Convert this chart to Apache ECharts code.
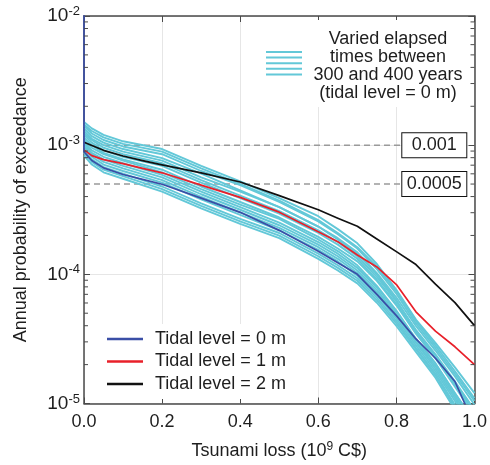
<!DOCTYPE html>
<html><head><meta charset="utf-8">
<script src="https://cdn.jsdelivr.net/npm/echarts@6/dist/echarts.min.js"></script>
<style>html,body{margin:0;padding:0;background:#fff}#c{width:490px;height:465px}</style>
</head><body><div id="c"></div>
<script>
// ---- data ----
const xTickLabels = ['0.0','0.2','0.4','0.6','0.8','1.0'];
const yMin = 1e-5, yMax = 1e-2;

const blackName = 'Tidal level = 2 m';
const blackX = [0, 0.05, 0.1, 0.15, 0.2, 0.3, 0.4, 0.5, 0.6, 0.65, 0.7, 0.75, 0.8, 0.85, 0.9, 0.95, 1.0];
const blackY = [1.054e-3, 9.12e-4, 8.24e-4, 7.59e-4, 7.03e-4, 6.11e-4, 5.19e-4, 4.07e-4, 3.16e-4, 2.72e-4, 2.36e-4, 1.88e-4, 1.50e-4, 1.19e-4, 8.39e-5, 6.04e-5, 4.01e-5];

const redName = 'Tidal level = 1 m';
const redX = [0, 0.02, 0.05, 0.1, 0.15, 0.2, 0.3, 0.4, 0.5, 0.6, 0.65, 0.7, 0.75, 0.8, 0.85, 0.9, 0.95, 1.0];
const redY = [9.2e-4, 8.3e-4, 7.73e-4, 7.19e-4, 6.61e-4, 6.11e-4, 4.90e-4, 3.94e-4, 3.03e-4, 2.14e-4, 1.79e-4, 1.41e-4, 1.14e-4, 8.34e-5, 5.13e-5, 3.63e-5, 2.75e-5, 2.0e-5];

const blueName = 'Tidal level = 0 m';
// first point: the curve rises vertically at zero loss above the top of the axis
const blueX = [0, 0, 0.02, 0.05, 0.1, 0.15, 0.2, 0.3, 0.4, 0.5, 0.6, 0.7, 0.75, 0.8, 0.85, 0.9, 0.95, 0.975, 1.0];
const blueY = [2e-2, 8.9e-4, 7.6e-4, 6.67e-4, 5.93e-4, 5.43e-4, 4.98e-4, 3.89e-4, 3.02e-4, 2.19e-4, 1.51e-4, 1.0e-4, 7.0e-5, 4.79e-5, 3.16e-5, 2.24e-5, 1.48e-5, 1.0e-5, 6.3e-6];

// elapsed-time scenarios: x positions and exponents (log10 of probability)
const cyanX = [0, 0.02, 0.05, 0.1, 0.2, 0.3, 0.4, 0.5, 0.6, 0.65, 0.7, 0.75, 0.8, 0.85, 0.9, 0.95, 1.0];
const cyan00 = [-2.82,-2.87,-2.92,-2.97,-3.03,-3.16,-3.28,-3.41,-3.55,-3.65,-3.76,-3.92,-4.12,-4.35,-4.53,-4.72,-4.92];
const cyan01 = [-2.84,-2.89,-2.94,-2.99,-3.05,-3.18,-3.30,-3.43,-3.58,-3.68,-3.79,-3.94,-4.13,-4.36,-4.55,-4.75,-4.96];
const cyan02 = [-2.85,-2.91,-2.96,-3.01,-3.07,-3.20,-3.31,-3.44,-3.59,-3.69,-3.80,-3.96,-4.15,-4.38,-4.57,-4.77,-4.98];
const cyan03 = [-2.87,-2.93,-2.98,-3.03,-3.10,-3.22,-3.35,-3.48,-3.63,-3.73,-3.84,-4.00,-4.20,-4.44,-4.63,-4.84,-5.06];
const cyan04 = [-2.89,-2.95,-3.00,-3.05,-3.12,-3.25,-3.36,-3.48,-3.63,-3.72,-3.83,-3.99,-4.18,-4.40,-4.59,-4.79,-5.01];
const cyan05 = [-2.91,-2.96,-3.02,-3.07,-3.14,-3.27,-3.39,-3.51,-3.66,-3.75,-3.86,-4.02,-4.21,-4.43,-4.62,-4.83,-5.05];
const cyan06 = [-2.92,-2.98,-3.04,-3.09,-3.16,-3.29,-3.41,-3.53,-3.68,-3.77,-3.88,-4.04,-4.23,-4.45,-4.64,-4.85,-5.07];
const cyan07 = [-2.94,-3.00,-3.06,-3.11,-3.19,-3.32,-3.44,-3.56,-3.71,-3.80,-3.90,-4.05,-4.24,-4.46,-4.65,-4.87,-5.09];
const cyan08 = [-2.96,-3.02,-3.07,-3.12,-3.21,-3.34,-3.46,-3.57,-3.73,-3.82,-3.93,-4.09,-4.28,-4.50,-4.69,-4.92,-5.14];
const cyan09 = [-2.98,-3.04,-3.09,-3.14,-3.23,-3.36,-3.48,-3.60,-3.75,-3.84,-3.95,-4.10,-4.29,-4.50,-4.69,-4.92,-5.15];
const cyan10 = [-2.99,-3.06,-3.11,-3.16,-3.25,-3.38,-3.50,-3.62,-3.77,-3.86,-3.97,-4.12,-4.31,-4.52,-4.71,-4.94,-5.18];
const cyan11 = [-3.01,-3.07,-3.13,-3.18,-3.27,-3.40,-3.52,-3.64,-3.79,-3.88,-3.99,-4.14,-4.32,-4.53,-4.73,-4.96,-5.20];
const cyan12 = [-3.03,-3.09,-3.15,-3.20,-3.29,-3.42,-3.54,-3.66,-3.81,-3.90,-4.01,-4.16,-4.34,-4.55,-4.75,-4.98,-5.22];
const cyan13 = [-3.05,-3.11,-3.17,-3.22,-3.32,-3.45,-3.57,-3.68,-3.84,-3.93,-4.03,-4.18,-4.36,-4.57,-4.77,-5.01,-5.25];
const cyan14 = [-3.06,-3.13,-3.19,-3.24,-3.34,-3.47,-3.59,-3.70,-3.86,-3.95,-4.05,-4.20,-4.38,-4.58,-4.78,-5.03,-5.27];
const cyan15 = [-3.08,-3.15,-3.21,-3.26,-3.36,-3.49,-3.61,-3.72,-3.88,-3.97,-4.07,-4.22,-4.40,-4.60,-4.80,-5.05,-5.30];
const cyanExps = [cyan00,cyan01,cyan02,cyan03,cyan04,cyan05,cyan06,cyan07,cyan08,cyan09,cyan10,cyan11,cyan12,cyan13,cyan14,cyan15];
const cyanName = 'Varied elapsed\ntimes between\n300 and 400 years\n(tidal level = 0 m)';

const refLevels = [0.001, 0.0005];
const refLabels = ['0.001', '0.0005'];
const refLineEndX = 0.81;

const minorTickValues = [2e-5,3e-5,4e-5,5e-5,6e-5,7e-5,8e-5,9e-5,
  2e-4,3e-4,4e-4,5e-4,6e-4,7e-4,8e-4,9e-4,
  2e-3,3e-3,4e-3,5e-3,6e-3,7e-3,8e-3,9e-3];

// ---- build ----
const FONT = 'Liberation Sans, Arial, sans-serif';
const FS = 18;
const TXT = '#1e1e1e';
const AXC = '#4a4a4a';
const CYAN = '#63c8d8';
const zip = (xs, ys) => xs.map((x, i) => [x, ys[i]]);

const series = [];
cyanExps.forEach((arr, k) => {
  series.push({
    name: k === 0 ? cyanName : cyanName + ' ' + k,
    type: 'line', showSymbol: false, silent: true, z: 2,
    data: cyanX.map((x, i) => [x, Math.pow(10, arr[i])]),
    lineStyle: { color: CYAN, width: 1.9, join: 'round' }
  });
});
series.push({ name: blackName, type: 'line', showSymbol: false, z: 3, data: zip(blackX, blackY), lineStyle: { color: '#111', width: 1.7, join: 'round' }, itemStyle: { color: '#111' } });
series.push({ name: redName, type: 'line', showSymbol: false, z: 3, data: zip(redX, redY), lineStyle: { color: '#e8202a', width: 1.7, join: 'round' }, itemStyle: { color: '#e8202a' } });
series.push({ name: blueName, type: 'line', showSymbol: false, z: 4, data: zip(blueX, blueY), lineStyle: { color: '#3a4ea6', width: 1.7, join: 'round' }, itemStyle: { color: '#3a4ea6' } });

refLevels.forEach((lv, i) => {
  series.push({
    name: 'ref' + i, type: 'line', showSymbol: false, silent: true, z: 1,
    data: [[0, lv], [refLineEndX, lv]],
    lineStyle: { color: '#9a9a9a', width: 1.5, type: [6, 4] },
    endLabel: {
      show: true, formatter: '{a|' + refLabels[i] + '}', distance: 2,
      backgroundColor: '#fff', borderColor: '#111', borderWidth: 1,
      padding: [3, 4],
      rich: { a: { fontFamily: FONT, fontSize: FS, color: TXT, lineHeight: 18, width: 56, align: 'center' } }
    }
  });
});

series.push({
  name: 'minorTicks', type: 'custom', silent: true, z: 5,
  xAxisIndex: 0, yAxisIndex: 0,
  data: minorTickValues.map(v => [0, v]),
  renderItem(params, api) {
    const v = api.value(1);
    const pL = api.coord([0, v]);
    const pR = api.coord([1, v]);
    return { type: 'group', children: [
      { type: 'line', shape: { x1: pL[0], y1: pL[1], x2: pL[0] + 4, y2: pL[1] }, style: { stroke: AXC, lineWidth: 1 } },
      { type: 'line', shape: { x1: pR[0], y1: pR[1], x2: pR[0] - 4, y2: pR[1] }, style: { stroke: AXC, lineWidth: 1 } }
    ]};
  }
});

const axisLine = { show: true, onZero: false, lineStyle: { color: AXC, width: 1.5 } };
const supRich = {
  b: { fontFamily: FONT, fontSize: 19, color: TXT },
  s: { fontFamily: FONT, fontSize: 13, color: TXT, verticalAlign: 'top', padding: [0, 0, 9, 0] }
};

const legendIconLines = [0, 1, 2, 3, 4].map(k => ({
  type: 'rect', z: 10, shape: { x: 266, y: 51 + k * 5.6, width: 36, height: 2 }, style: { fill: CYAN }
}));

const option = {
  animation: false,
  backgroundColor: '#fff',
  grid: { left: 84, right: 14, top: 16, bottom: 57, containLabel: false },
  legend: {
    data: [blueName, redName, blackName],
    orient: 'vertical', left: 102, top: 324, padding: 5,
    backgroundColor: '#fff', z: 6,
    icon: 'rect', itemWidth: 36, itemHeight: 2.5, itemGap: 2.5,
    selectedMode: false,
    textStyle: { fontFamily: FONT, fontSize: FS, color: TXT, lineHeight: 20, padding: [0, 0, 0, 7] }
  },
  xAxis: [{
    type: 'value', min: 0, max: 1, interval: 0.2, position: 'bottom',
    axisLine: axisLine,
    axisTick: { show: true, inside: true, length: 6, lineStyle: { color: AXC, width: 1 } },
    axisLabel: { margin: 10, fontFamily: FONT, fontSize: FS, color: TXT, formatter: v => xTickLabels[Math.round(v / 0.2)] },
    splitLine: { show: true, lineStyle: { color: '#e6e6e6', width: 1 } },
    name: 'Tsunami loss (10{s|9} C$)', nameLocation: 'middle', nameGap: 37,
    nameTextStyle: { fontFamily: FONT, fontSize: FS, color: TXT, rich: { s: { fontFamily: FONT, fontSize: 12, color: TXT, verticalAlign: 'top', padding: [0, 0, 9, 0] } } }
  }, {
    type: 'value', min: 0, max: 1, interval: 0.2, position: 'top',
    axisLine: axisLine,
    axisTick: { show: true, inside: true, length: 6, lineStyle: { color: AXC, width: 1 } },
    axisLabel: { show: false }, splitLine: { show: false }
  }],
  yAxis: [{
    type: 'log', logBase: 10, min: yMin, max: yMax, position: 'left',
    axisLine: axisLine,
    axisTick: { show: true, inside: true, length: 6, lineStyle: { color: AXC, width: 1 } },
    axisLabel: {
      margin: 4, formatter: v => '{b|10}{s|' + Math.round(Math.log10(v)) + '}', rich: supRich
    },
    splitLine: { show: true, lineStyle: { color: '#e6e6e6', width: 1 } },
    name: 'Annual probability of exceedance', nameLocation: 'middle', nameGap: 54, nameRotate: 90,
    nameTextStyle: { fontFamily: FONT, fontSize: FS, color: TXT }
  }, {
    type: 'log', logBase: 10, min: yMin, max: yMax, position: 'right',
    axisLine: axisLine,
    axisTick: { show: true, inside: true, length: 6, lineStyle: { color: AXC, width: 1 } },
    axisLabel: { show: false }, splitLine: { show: false }
  }],
  graphic: [
    { type: 'rect', z: 1, shape: { x: 258, y: 20, width: 212, height: 87 }, style: { fill: '#fff' } }
  ].concat(legendIconLines).concat([
    { type: 'text', z: 10, x: 388, y: 30, style: {
        text: cyanName, align: 'center', verticalAlign: 'top',
        fontFamily: FONT, fontSize: FS, lineHeight: 18, fill: TXT } }
  ]),
  series: series
};

const chart = echarts.init(document.getElementById('c'), null, { renderer: 'canvas' });
chart.setOption(option);
</script></body></html>
